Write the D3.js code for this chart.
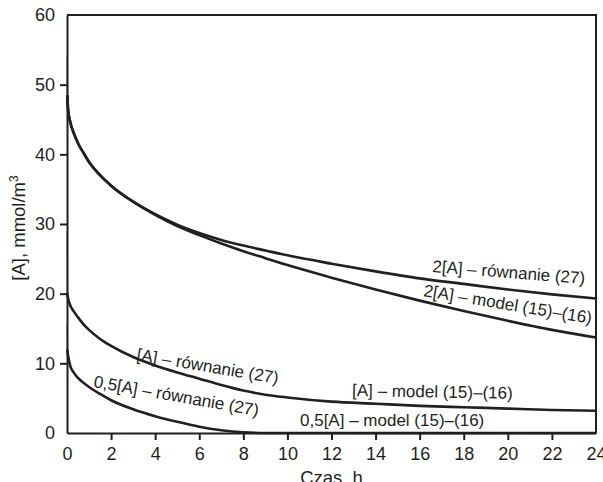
<!DOCTYPE html>
<html>
<head>
<meta charset="utf-8">
<script src="https://cdn.jsdelivr.net/npm/d3@7"></script>
<style>
  html, body { margin: 0; padding: 0; background: #fff; }
  svg { display: block; font-family: "Liberation Sans", Arial, sans-serif; }
  .axis-title { font-size: 18.5px; fill: #231f20; }
  .curve-label { font-size: 17px; fill: #231f20; }
</style>
</head>
<body>
<div id="chart"></div>
<script>
const WIDTH = 603;
const HEIGHT = 482;
const MARGIN = { top: 15, right: 7, bottom: 49, left: 67 };
const INK = "#231f20";

// czas, h
const TIME = [0, 0.01, 0.05, 0.15, 0.3, 0.5, 0.75, 1, 1.5, 2, 3, 4, 5, 6, 7, 8, 9, 10, 12, 14, 16, 18, 20, 22, 24];

// [A], mmol/m3
const A2_EQUATION = [54, 48.5, 46.4, 44.6, 43.1, 41.6, 40.2, 38.9, 37.0, 35.5, 33.2, 31.4, 29.9, 28.7, 27.7, 26.9, 26.2, 25.5, 24.3, 23.2, 22.2, 21.4, 20.6, 19.9, 19.3];
const A2_MODEL = [54, 48.5, 46.4, 44.6, 43.1, 41.6, 40.2, 38.9, 37.0, 35.5, 33.2, 31.3, 29.7, 28.4, 27.2, 26.1, 25.1, 24.1, 22.3, 20.6, 19.0, 17.5, 16.1, 14.8, 13.7];
const A1_EQUATION = [29, 20.1, 19.3, 18.3, 17.5, 16.6, 15.6, 14.8, 13.5, 12.5, 10.9, 9.7, 8.7, 7.8, 6.9, 6.1, 5.5, 5.1, 4.5, 4.2, 3.9, 3.7, 3.5, 3.3, 3.2];
const A05_EQUATION = [15.5, 12, 11.1, 9.6, 8.7, 7.9, 7.2, 6.6, 5.6, 4.7, 3.4, 2.4, 1.6, 0.9, 0.4, 0.1, 0, 0, 0, 0, 0, 0, 0, 0, 0];

const SERIES = [A2_EQUATION, A2_MODEL, A1_EQUATION, A05_EQUATION];

const X_TICKS = d3.range(0, 25, 2);
const Y_TICKS = d3.range(0, 61, 10);

const CURVE_LABELS = [
  { text: "2[A] – równanie (27)", x: 432, y: 272, angle: 4.5 },
  { text: "2[A] – model (15)–(16)", x: 423, y: 296, angle: 9.4 },
  { text: "[A] – równanie (27)", x: 136, y: 360, angle: 9.5 },
  { text: "0,5[A] – równanie (27)", x: 93, y: 387, angle: 10 },
  { text: "[A] – model (15)–(16)", x: 352, y: 396, angle: 1 },
  { text: "0,5[A] – model (15)–(16)", x: 300, y: 426, angle: 0 },
];

const innerWidth = WIDTH - MARGIN.left - MARGIN.right;
const innerHeight = HEIGHT - MARGIN.top - MARGIN.bottom;

const x = d3.scaleLinear().domain([0, 24]).range([0, innerWidth]);
const y = d3.scaleLinear().domain([0, 60]).range([innerHeight, 0]);

const svg = d3.select("#chart")
  .append("svg")
  .attr("width", WIDTH)
  .attr("height", HEIGHT);

const g = svg.append("g")
  .attr("transform", `translate(${MARGIN.left},${MARGIN.top})`);

const line = d3.line()
  .x((d) => x(d[0]))
  .y((d) => y(d[1]))
  .curve(d3.curveMonotoneX);

// —— Curves ——
for (const values of SERIES) {
  const pts = TIME.map((t, i) => [t, values[i]]);
  // near-vertical start drawn faint, as in the source figure
  g.append("path")
    .attr("d", d3.line().x((d) => x(d[0])).y((d) => y(d[1]))(pts.slice(0, 2)))
    .attr("fill", "none")
    .attr("stroke", "#c8c8c8")
    .attr("stroke-width", 2);
  g.append("path")
    .attr("d", line(pts.slice(1)))
    .attr("fill", "none")
    .attr("stroke", INK)
    .attr("stroke-width", 2.6);
}

// —— Frame (top and right) ——
g.append("path")
  .attr("d", `M0,0H${innerWidth}V${innerHeight}`)
  .attr("fill", "none")
  .attr("stroke", INK)
  .attr("stroke-width", 2);

// —— Axes ——
const xAxis = g.append("g")
  .attr("transform", `translate(0,${innerHeight})`)
  .call(d3.axisBottom(x).tickValues(X_TICKS).tickSize(7).tickPadding(7).tickSizeOuter(0));

const yAxis = g.append("g")
  .call(d3.axisLeft(y).tickValues(Y_TICKS).tickSize(7).tickPadding(5).tickSizeOuter(0));

for (const axis of [xAxis, yAxis]) {
  axis.select(".domain").attr("stroke", INK).attr("stroke-width", 2);
  axis.selectAll(".tick line").attr("stroke", INK).attr("stroke-width", 2);
  axis.selectAll(".tick text")
    .attr("fill", INK)
    .style("font-size", "18px")
    .style("font-family", "'Liberation Sans', Arial, sans-serif");
}
yAxis.selectAll(".tick").filter((d) => d === 0 || d === 60).select("line").remove();
xAxis.selectAll(".tick").filter((d) => d === 0 || d === 24).select("line").remove();

// —— Axis titles ——
svg.append("text")
  .attr("class", "axis-title")
  .attr("x", MARGIN.left + innerWidth / 2)
  .attr("y", 484)
  .attr("text-anchor", "middle")
  .text("Czas, h");

const yTitle = svg.append("text")
  .attr("class", "axis-title")
  .attr("transform", `translate(25,${MARGIN.top + innerHeight / 2 + 4}) rotate(-90)`)
  .attr("text-anchor", "middle");
yTitle.append("tspan").text("[A], mmol/m");
yTitle.append("tspan").attr("dy", -7).style("font-size", "12px").text("3");

// —— Curve labels ——
svg.selectAll(".curve-label")
  .data(CURVE_LABELS)
  .join("text")
  .attr("class", "curve-label")
  .attr("transform", (d) => `translate(${d.x},${d.y}) rotate(${d.angle})`)
  .text((d) => d.text);
</script>
</body>
</html>
